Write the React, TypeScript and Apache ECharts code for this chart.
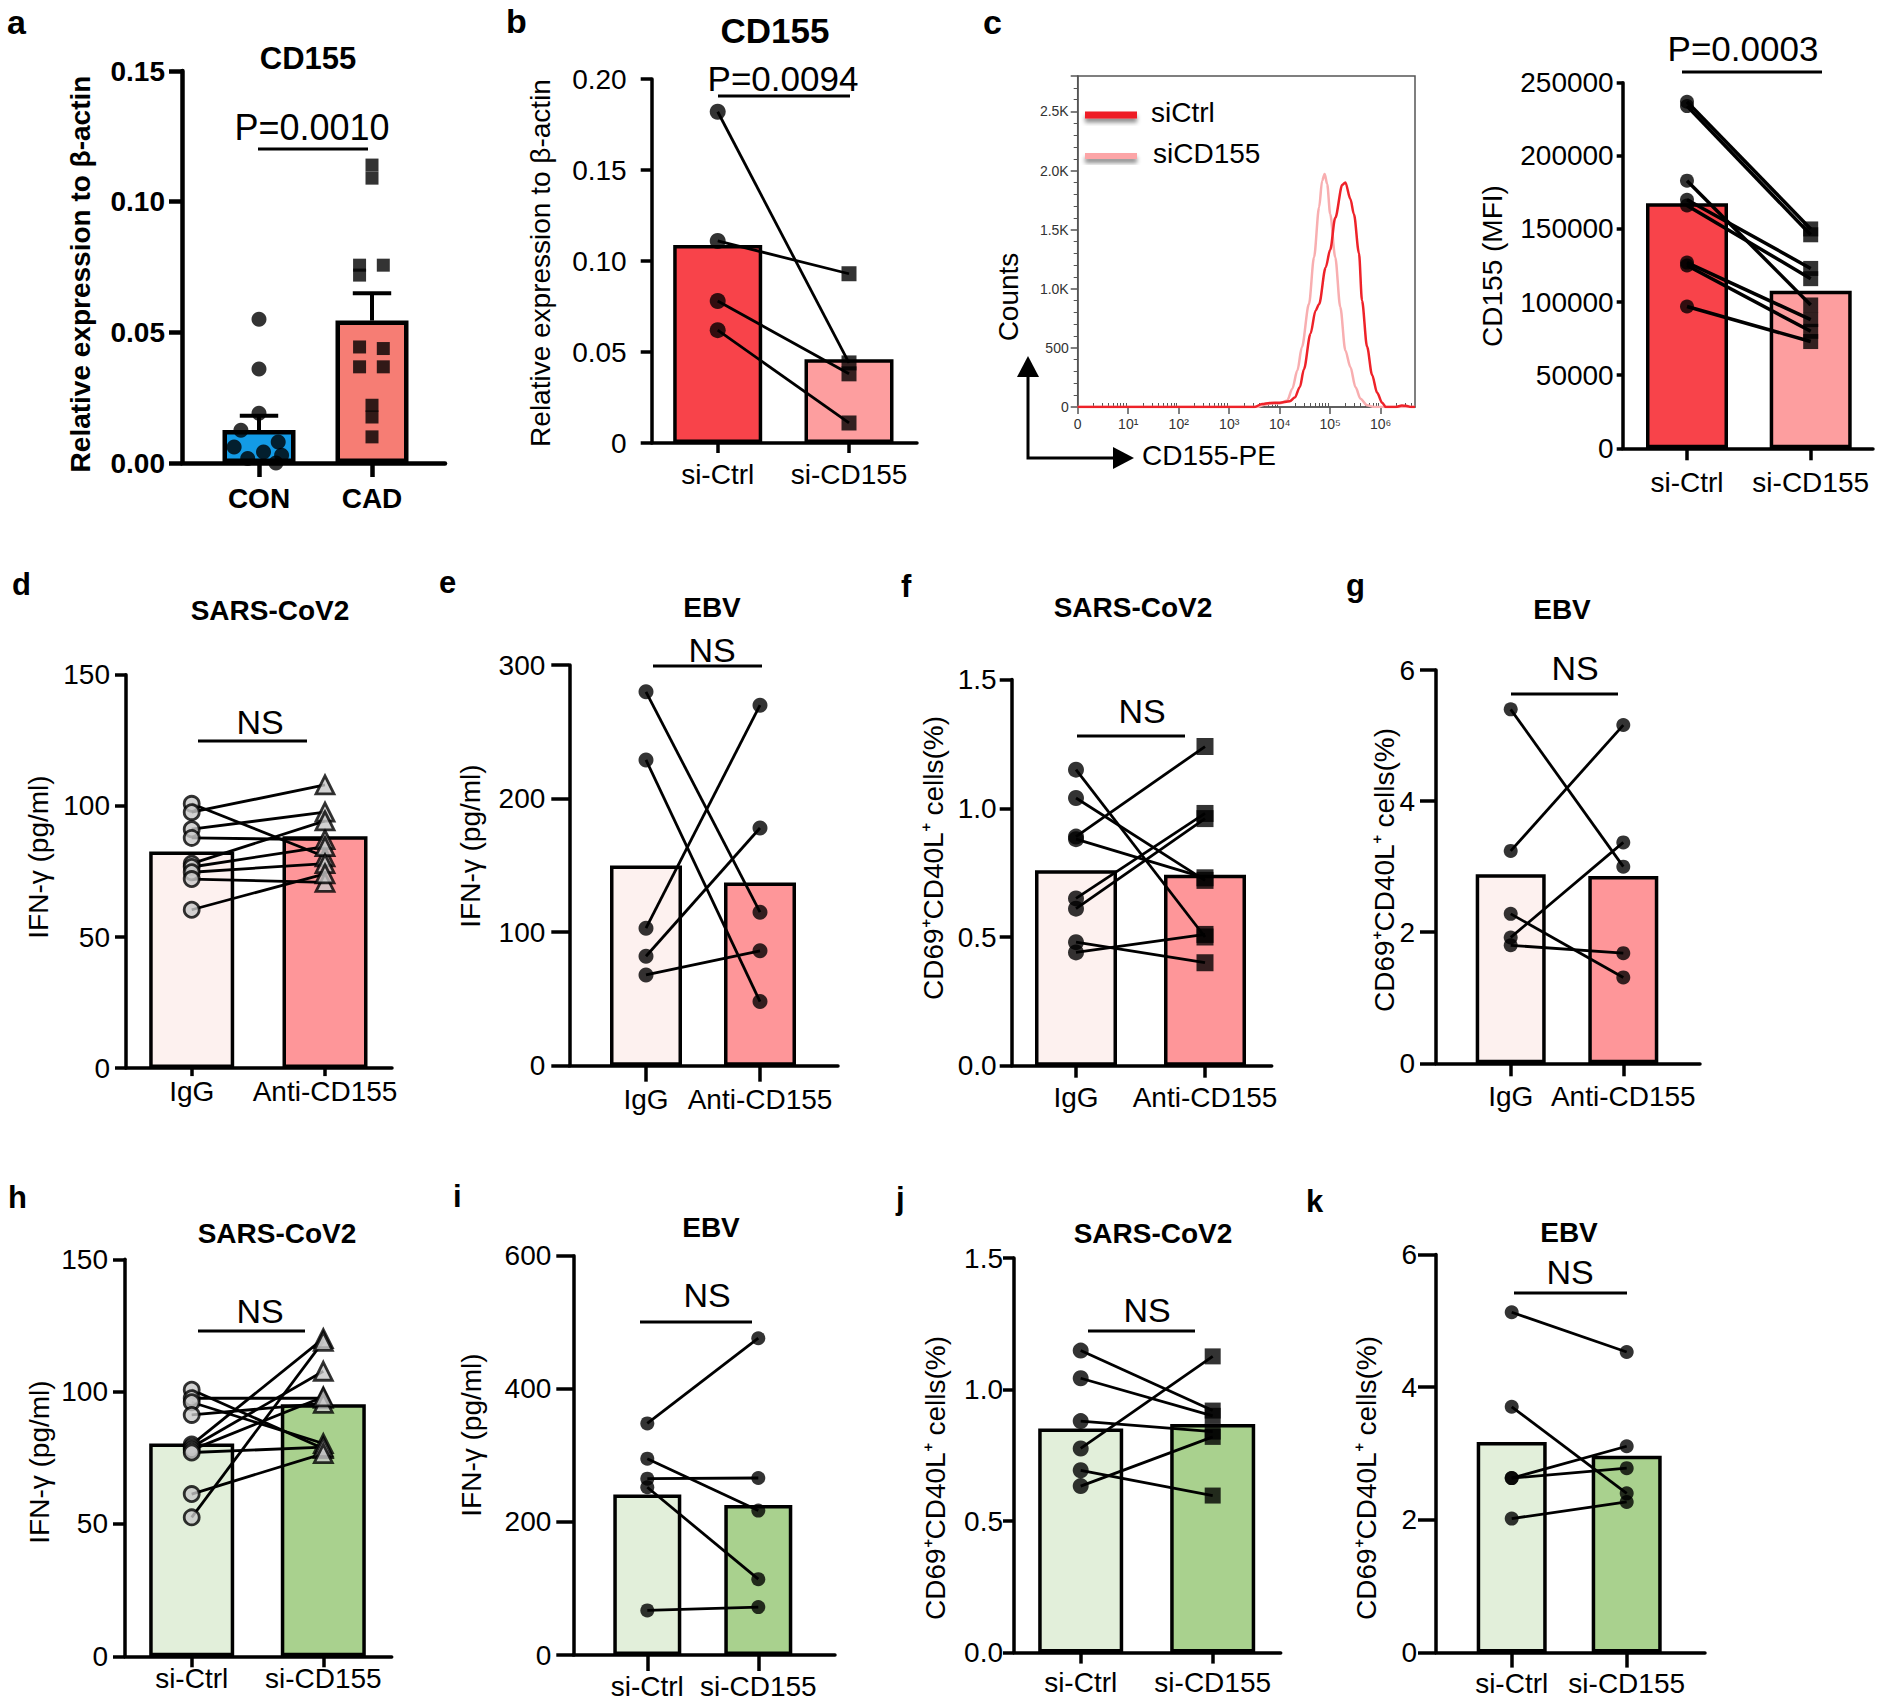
import { useEffect, useRef } from "react";
import * as echarts from "echarts";

const FONT = "'Liberation Sans', Arial, Helvetica, sans-serif";

// ---------------- DATA ----------------
const catsA = ["CON", "CAD"];
const catsAnti = ["IgG", "Anti-CD155"];
const catsSi = ["si-Ctrl", "si-CD155"];

// a
const aMean = [0.0126, 0.0545];
const aSem = [0.0055, 0.0105];
const aCON = [0.055, 0.036, 0.019, 0.0125, 0.008, 0.0061, 0.0042, 0.0017, 0.0, 0.003];
const aCONJitter = [0, 0, 0, -0.16, 0.17, -0.22, 0.04, -0.1, 0.15, 0.2];
const aCAD = [0.114, 0.109, 0.0757, 0.0719, 0.0757, 0.0444, 0.0438, 0.0368, 0.0368, 0.0221, 0.0176, 0.01];
const aCADJitter = [0, 0, -0.11, -0.11, 0.1, -0.11, 0.1, -0.11, 0.1, 0, 0, 0];
// b
const bMean = [0.1088, 0.046];
const bCtrl = [0.182, 0.111, 0.078, 0.062];
const bCD155 = [0.044, 0.093, 0.038, 0.011];
// c (MFI)
const cMean = [167500, 107800];
const cCtrl = [237000, 234000, 183000, 170000, 166000, 127000, 125000, 97000];
const cCD155 = [150000, 146000, 98000, 123000, 116000, 88000, 80000, 73000];
// c (flow histogram)
const flowTickLabels = ["0", "10¹", "10²", "10³", "10⁴", "10⁵", "10⁶"];
const flowCtrlX = [0, 3.5, 3.65, 3.8, 4.0, 4.2, 4.3, 4.4, 4.48, 4.61, 4.71, 4.78, 4.91, 5.0, 5.1, 5.24, 5.3, 5.4, 5.47, 5.57, 5.63, 5.73, 5.83, 5.93, 6.03, 6.1, 6.3, 6.42, 6.5, 6.6, 6.68];
const flowCtrlY = [0, 0, 25, 34, 36, 48, 80, 170, 320, 620, 815, 870, 1180, 1330, 1600, 1880, 1900, 1760, 1630, 1300, 900, 510, 270, 120, 35, 0, 0, 12, 10, 0, 0];
const flowCD155X = [0, 3.55, 3.7, 3.85, 4.0, 4.15, 4.25, 4.35, 4.44, 4.58, 4.68, 4.78, 4.84, 4.89, 4.94, 5.0, 5.1, 5.2, 5.3, 5.4, 5.5, 5.6, 5.73, 5.87, 6.68];
const flowCD155Y = [0, 0, 20, 30, 30, 56, 155, 310, 507, 873, 1267, 1689, 1914, 1970, 1886, 1633, 1267, 845, 479, 338, 169, 70, 14, 0, 0];
// d
const dMean = [82.6, 88.4];
const dIgG = [100.8, 97.6, 91.1, 87.8, 78.0, 76.7, 74.7, 72.1, 60.4];
const dAnti = [80.6, 108, 97.6, 87.1, 94.3, 84.5, 78, 70.8, 74.1];
// e
const eMean = [150, 137.2];
const eIgG = [280, 229, 103, 82, 68];
const eAnti = [115, 48, 270, 178, 86];
// f
const fMean = [0.759, 0.742];
const fIgG = [1.15, 1.04, 0.89, 0.88, 0.65, 0.61, 0.48, 0.44];
const fAnti = [0.5, 0.72, 1.24, 0.73, 0.98, 0.96, 0.4, 0.51];
// g
const gMean = [2.884, 2.858];
const gIgG = [5.4, 3.24, 2.28, 1.92, 1.8];
const gAnti = [3.0, 5.16, 1.31, 3.37, 1.68];
// h
const hMean = [80.4, 95.25];
const hCtrl = [100.7, 97.5, 96, 91.2, 80, 79, 78, 77, 61.3, 52.5];
const hCD155 = [78.5, 97.5, 80.4, 95.6, 120, 107.7, 98, 79, 76.6, 119];
// i
const iMean = [241, 225.3];
const iCtrl = [348, 295, 265, 252, 67];
const iCD155 = [476, 217, 266, 114, 72];
// j
const jMean = [0.852, 0.869];
const jCtrl = [1.148, 1.043, 0.88, 0.776, 0.693, 0.633];
const jCD155 = [0.92, 0.9, 0.84, 1.126, 0.597, 0.82];
// k
const kMean = [3.174, 2.967];
const kCtrl = [5.13, 3.705, 2.63, 2.63, 2.02];
const kCD155 = [4.53, 2.4, 3.11, 2.78, 2.27];

// ---------------- STYLES ----------------
const RED = ["#f8434a", "#fd9e9f"];
const PINK = ["#fdf1ef", "#fe9699"];
const GREEN = ["#e2efda", "#a9d18e"];
const BLUE_RED = ["#139be6", "#f67d74"];

const f2 = (v: number) => v.toFixed(2);
const f2z = (v: number) => (v === 0 ? "0" : v.toFixed(2));
const f1 = (v: number) => v.toFixed(1);
const fi = (v: number) => String(Math.round(v));

type Layout = {
  left: number; right: number; top: number; bottom: number; c0: number; c1: number;
  ymax: number; yint: number; barW: number; aw: number; yt: number; ym: number; xt: number; xm: number;
  bold?: boolean; fmt: (v: number) => string;
};

const AW = 3.5;
const panels: any[] = [
  { L: { left: 182, right: 445, top: 71, bottom: 463, c0: 259, c1: 372, ymax: 0.15, yint: 0.05, barW: 73, aw: 4.5, yt: 13, ym: 17, xt: 14, xm: 21, bold: true, fmt: f2 },
    D: { cats: catsA, means: aMean, colors: BLUE_RED, left: aCON, right: aCAD, paired: false, lj: aCONJitter, rj: aCADJitter, ls: "circle", rs: "rect", size: [15, 13], sem: aSem } },
  { L: { left: 651.7, right: 917, top: 79, bottom: 443, c0: 717.7, c1: 849, ymax: 0.2, yint: 0.05, barW: 89, aw: AW, yt: 11, ym: 25, xt: 10, xm: 17, fmt: f2z },
    D: { cats: catsSi, means: bMean, colors: RED, left: bCtrl, right: bCD155, paired: true, ls: "circle", rs: "rect", size: [16, 15] } },
  { L: { left: 1622.7, right: 1873, top: 82.7, bottom: 448.3, c0: 1687, c1: 1810.7, ymax: 250000, yint: 50000, barW: 82, aw: AW, yt: 6, ym: 9, xt: 12, xm: 20, fmt: fi },
    D: { cats: catsSi, means: cMean, colors: RED, left: cCtrl, right: cCD155, paired: true, ls: "circle", rs: "rect", size: [14, 15], lw: 3.5 } },
  { L: { left: 126, right: 392, top: 674.8, bottom: 1068.1, c0: 191.7, c1: 325, ymax: 150, yint: 50, barW: 85, aw: AW, yt: 11, ym: 16, xt: 8, xm: 9.5, fmt: fi },
    D: { cats: catsAnti, means: dMean, colors: PINK, left: dIgG, right: dAnti, paired: true, ls: "circle", rs: "triangle", size: [15, 18], hollow: true } },
  { L: { left: 569.3, right: 838, top: 665.1, bottom: 1065.7, c0: 646, c1: 760, ymax: 300, yint: 100, barW: 72, aw: AW, yt: 18, ym: 24, xt: 16, xm: 20, fmt: fi },
    D: { cats: catsAnti, means: eMean, colors: PINK, left: eIgG, right: eAnti, paired: true, ls: "circle", rs: "circle", size: [15, 15] } },
  { L: { left: 1011.7, right: 1271.7, top: 679.6, bottom: 1065.7, c0: 1076, c1: 1205, ymax: 1.5, yint: 0.5, barW: 82, aw: AW, yt: 12, ym: 15, xt: 12, xm: 18, fmt: f1 },
    D: { cats: catsAnti, means: fMean, colors: PINK, left: fIgG, right: fAnti, paired: true, ls: "circle", rs: "rect", size: [16, 17] } },
  { L: { left: 1436, right: 1700, top: 670, bottom: 1063.3, c0: 1510.7, c1: 1623.3, ymax: 6, yint: 2, barW: 70, aw: AW, yt: 16, ym: 21, xt: 13, xm: 19, fmt: fi },
    D: { cats: catsAnti, means: gMean, colors: PINK, left: gIgG, right: gAnti, paired: true, ls: "circle", rs: "circle", size: [14, 14] } },
  { L: { left: 125, right: 391.7, top: 1259.3, bottom: 1656.3, c0: 191.7, c1: 323.3, ymax: 150, yint: 50, barW: 85, aw: AW, yt: 12, ym: 17, xt: 11, xm: 8, fmt: fi },
    D: { cats: catsSi, means: hMean, colors: GREEN, left: hCtrl, right: hCD155, paired: true, ls: "circle", rs: "triangle", size: [15, 18], hollow: true } },
  { L: { left: 573.3, right: 835, top: 1255.7, bottom: 1655, c0: 647.3, c1: 758.3, ymax: 600, yint: 200, barW: 68, aw: AW, yt: 17, ym: 22, xt: 16, xm: 17, fmt: fi },
    D: { cats: catsSi, means: iMean, colors: GREEN, left: iCtrl, right: iCD155, paired: true, ls: "circle", rs: "circle", size: [14, 14] } },
  { L: { left: 1014, right: 1280.7, top: 1258, bottom: 1652.6, c0: 1080.7, c1: 1212.7, ymax: 1.5, yint: 0.5, barW: 85, aw: AW, yt: 11, ym: 11, xt: 11, xm: 15.5, fmt: f1 },
    D: { cats: catsSi, means: jMean, colors: GREEN, left: jCtrl, right: jCD155, paired: true, ls: "circle", rs: "rect", size: [16, 16] } },
  { L: { left: 1436, right: 1705, top: 1254.5, bottom: 1652.6, c0: 1511.7, c1: 1626.7, ymax: 6, yint: 2, barW: 70, aw: AW, yt: 18, ym: 19, xt: 15, xm: 17, fmt: fi },
    D: { cats: catsSi, means: kMean, colors: GREEN, left: kCtrl, right: kCD155, paired: true, ls: "circle", rs: "circle", size: [14, 14] } },
];

function txt(x: number, y: number, text: string, size: number, bold = false, align = "center", rotation = 0, color = "#000") {
  return {
    type: "text", x, y, rotation, silent: true, z: 10,
    style: {
      text, fill: color, fontSize: size, fontWeight: bold ? "bold" : "normal", fontFamily: FONT,
      align, verticalAlign: "middle", textAlign: align, textVerticalAlign: "middle",
    },
  };
}
function seg(x1: number, y1: number, x2: number, y2: number, w = 3) {
  return { type: "line", silent: true, z: 10, shape: { x1, y1, x2, y2 }, style: { stroke: "#000", lineWidth: w } };
}

function buildOption() {
  const grid: any[] = [];
  const xAxis: any[] = [];
  const yAxis: any[] = [];
  const series: any[] = [];

  panels.forEach((p: any, i: number) => {
    const L: Layout = p.L;
    const D = p.D;
    const span = L.c1 - L.c0;
    const ls = { color: "#000", width: L.aw };
    const fw = L.bold ? "bold" : "normal";
    grid.push({ left: L.left, top: L.top, width: L.right - L.left, height: L.bottom - L.top });
    xAxis.push({
      gridIndex: i, type: "value", min: (L.left - L.c0) / span, max: (L.right - L.c0) / span,
      axisLine: { show: true, onZero: false, lineStyle: ls },
      axisTick: { show: true, customValues: [0, 1], length: L.xt, lineStyle: ls },
      axisLabel: {
        show: true, customValues: [0, 1], formatter: (v: number) => D.cats[Math.round(v)] ?? "",
        margin: L.xm, fontSize: 28, fontFamily: FONT, color: "#000", fontWeight: fw,
      },
      splitLine: { show: false },
    });
    yAxis.push({
      gridIndex: i, type: "value", min: 0, max: L.ymax, interval: L.yint,
      axisLine: { show: true, onZero: false, lineStyle: ls },
      axisTick: { show: true, length: L.yt, lineStyle: ls },
      axisLabel: { margin: L.ym, fontSize: 28, fontFamily: FONT, color: "#000", fontWeight: fw, formatter: L.fmt },
      splitLine: { show: false },
    });
    series.push({
      type: "bar", xAxisIndex: i, yAxisIndex: i, barWidth: L.barW, silent: true, z: 2,
      itemStyle: { borderColor: "#000", borderWidth: L.aw },
      data: D.means.map((m: number, k: number) => ({ value: [k, m], itemStyle: { color: D.colors[k] } })),
    });
    if (D.sem) {
      D.means.forEach((m: number, k: number) => {
        const t = m + D.sem[k];
        series.push({ type: "line", xAxisIndex: i, yAxisIndex: i, symbol: "none", silent: true, z: 3,
          lineStyle: { color: "#000", width: 4 }, data: [[k, m], [k, t]] });
        series.push({ type: "line", xAxisIndex: i, yAxisIndex: i, symbol: "none", silent: true, z: 3,
          lineStyle: { color: "#000", width: 4 }, data: [[k - 0.17, t], [k + 0.17, t]] });
      });
    }
    if (D.paired) {
      D.left.forEach((v: number, k: number) => {
        series.push({ type: "line", xAxisIndex: i, yAxisIndex: i, symbol: "none", silent: true, z: 3,
          lineStyle: { color: "#000", width: D.lw ?? 2.8 }, data: [[0, v], [1, D.right[k]]] });
      });
    }
    const st = D.hollow
      ? { color: "#c8c8c8", borderColor: "#000", borderWidth: 2.8 }
      : { color: "#000" };
    series.push({ type: "scatter", xAxisIndex: i, yAxisIndex: i, symbol: D.ls, symbolSize: D.size[0], silent: true, z: 4,
      itemStyle: st, data: D.left.map((v: number, k: number) => [0 + (D.lj ? D.lj[k] : 0), v]) });
    series.push({ type: "scatter", xAxisIndex: i, yAxisIndex: i, symbol: D.rs, symbolSize: D.size[1], silent: true, z: 4,
      itemStyle: st, data: D.right.map((v: number, k: number) => [1 + (D.rj ? D.rj[k] : 0), v]) });
  });

  // flow histogram panel
  const gi = grid.length;
  const fl = { left: 1077.7, right: 1415, top: 76, bottom: 407 };
  const fmax = (fl.right - fl.left) / 50.5;
  grid.push({ left: fl.left, top: fl.top, width: fl.right - fl.left, height: fl.bottom - fl.top, show: true, borderColor: "#555", borderWidth: 1.5 });
  const minor: number[] = [];
  for (let k = 0; k <= 6; k++) for (let m = 2; m <= 9; m++) { const v = k + Math.log10(m); if (v < fmax) minor.push(v); }
  const gl = { color: "#555", width: 1.5 };
  const xi = xAxis.length;
  xAxis.push({
    gridIndex: gi, type: "value", min: 0, max: fmax,
    axisLine: { show: true, onZero: false, lineStyle: gl },
    axisTick: { show: true, customValues: [0, 1, 2, 3, 4, 5, 6], length: 7, lineStyle: gl },
    axisLabel: { customValues: [0, 1, 2, 3, 4, 5, 6], formatter: (v: number) => flowTickLabels[Math.round(v)] ?? "", fontSize: 14, color: "#333", fontFamily: FONT, margin: 10 },
    splitLine: { show: false },
  });
  xAxis.push({
    gridIndex: gi, type: "value", min: 0, max: fmax,
    axisLine: { show: false },
    axisTick: { show: true, customValues: minor, length: 4, lineStyle: { color: "#555", width: 1 } },
    axisLabel: { show: false },
    splitLine: { show: false },
  });
  yAxis.push({
    gridIndex: gi, type: "value", min: 0, max: 2800, interval: 500,
    axisLine: { show: true, onZero: false, lineStyle: gl },
    axisTick: { show: true, length: 7, lineStyle: gl },
    minorTick: { show: true, splitNumber: 5, length: 4, lineStyle: { color: "#555", width: 1 } },
    axisLabel: {
      fontSize: 14, color: "#333", fontFamily: FONT, margin: 9,
      formatter: (v: number) => (v % 500 !== 0 ? "" : v === 0 ? "0" : v < 1000 ? String(v) : (v / 1000).toFixed(1) + "K"),
    },
    splitLine: { show: false },
  });
  series.push({ type: "line", xAxisIndex: xi, yAxisIndex: gi, smooth: 0.3, smoothMonotone: "x", symbol: "none", silent: true, z: 3,
    lineStyle: { color: "#f8aeb0", width: 2.5 }, data: flowCD155X.map((x, k) => [x, flowCD155Y[k]]) });
  series.push({ type: "line", xAxisIndex: xi, yAxisIndex: gi, smooth: 0.3, smoothMonotone: "x", symbol: "none", silent: true, z: 4,
    lineStyle: { color: "#ee2229", width: 2.5 }, data: flowCtrlX.map((x, k) => [x, flowCtrlY[k]]) });

  const yLab = "Relative expression to β-actin";
  const ifn = "IFN-γ (pg/ml)";
  const cd69 = "CD69⁺CD40L⁺ cells(%)";
  const R = Math.PI / 2;
  const graphic: any[] = [
    // panel letters
    txt(7, 22, "a", 34, true, "left"), txt(506, 21, "b", 34, true, "left"), txt(983, 22, "c", 34, true, "left"),
    txt(12, 584, "d", 31, true, "left"), txt(439, 582, "e", 31, true, "left"), txt(901, 586, "f", 31, true, "left"),
    txt(1346, 585, "g", 31, true, "left"), txt(8, 1197, "h", 31, true, "left"), txt(453, 1196, "i", 31, true, "left"),
    txt(896, 1198, "j", 31, true, "left"), txt(1306, 1201, "k", 31, true, "left"),
    // titles
    txt(308, 58, "CD155", 31, true), txt(775, 30, "CD155", 35, true),
    txt(270, 610, "SARS-CoV2", 28, true), txt(712, 607, "EBV", 28, true), txt(1133, 607, "SARS-CoV2", 28, true),
    txt(1562, 609, "EBV", 28, true), txt(277, 1233, "SARS-CoV2", 28, true), txt(711, 1227, "EBV", 28, true),
    txt(1153, 1233, "SARS-CoV2", 28, true), txt(1569, 1232, "EBV", 28, true),
    // stats
    txt(312, 127, "P=0.0010", 36), seg(258, 149, 368, 149),
    txt(783, 78, "P=0.0094", 35), seg(718, 96, 850, 96),
    txt(1743, 48, "P=0.0003", 35), seg(1682, 72, 1822, 72),
    txt(260, 722, "NS", 34), seg(198, 741, 307, 741),
    txt(712, 650, "NS", 34), seg(653, 666, 762, 666),
    txt(1142, 711, "NS", 34), seg(1077, 736, 1185, 736),
    txt(1575, 668, "NS", 34), seg(1511, 694, 1618, 694),
    txt(260, 1311, "NS", 34), seg(198, 1331, 305, 1331),
    txt(707, 1295, "NS", 34), seg(640, 1322, 752, 1322),
    txt(1147, 1310, "NS", 34), seg(1088, 1331, 1195, 1331),
    txt(1570, 1272, "NS", 34), seg(1514, 1293, 1627, 1293),
    // y labels
    txt(80, 274, yLab, 28, true, "center", R), txt(540, 263, yLab, 28, false, "center", R),
    txt(1492, 266, "CD155 (MFI)", 28, false, "center", R),
    txt(38, 857, ifn, 28, false, "center", R), txt(470, 846, ifn, 28, false, "center", R),
    txt(933, 858, cd69, 28, false, "center", R), txt(1384, 870, cd69, 28, false, "center", R),
    txt(39, 1462, ifn, 28, false, "center", R), txt(471, 1435, ifn, 28, false, "center", R),
    txt(935, 1478, cd69, 28, false, "center", R), txt(1366, 1478, cd69, 28, false, "center", R),
    // flow extras
    txt(1008, 297, "Counts", 28, false, "center", R),
    txt(1142, 455, "CD155-PE", 28, false, "left"),
    { type: "polyline", silent: true, shape: { points: [[1028, 376], [1028, 458], [1114, 458]] }, style: { stroke: "#000", lineWidth: 3, fill: null } },
    { type: "polygon", silent: true, shape: { points: [[1028, 356], [1017, 377], [1039, 377]] }, style: { fill: "#000" } },
    { type: "polygon", silent: true, shape: { points: [[1134, 458], [1113, 447], [1113, 469]] }, style: { fill: "#000" } },
    { type: "rect", silent: true, shape: { x: 1085, y: 111.5, width: 52, height: 7 },
      style: { fill: "#ee1c25", shadowBlur: 4, shadowOffsetY: 4, shadowColor: "rgba(0,0,0,0.45)" } },
    { type: "rect", silent: true, shape: { x: 1085, y: 153, width: 52, height: 6 },
      style: { fill: "#fca5a7", shadowBlur: 4, shadowOffsetY: 4, shadowColor: "rgba(0,0,0,0.45)" } },
    txt(1151, 112, "siCtrl", 28, false, "left"),
    txt(1153, 153, "siCD155", 28, false, "left"),
  ];

  return { animation: false, backgroundColor: "#fff", grid, xAxis, yAxis, series, graphic };
}

export default function App() {
  const ref = useRef<HTMLDivElement>(null);
  useEffect(() => {
    if (!ref.current) return;
    const chart = echarts.init(ref.current, undefined, { renderer: "svg" });
    chart.setOption(buildOption() as any);
    return () => chart.dispose();
  }, []);
  return <div ref={ref} style={{ position: "absolute", left: 0, top: 0, width: 1886, height: 1707 }} />;
}
